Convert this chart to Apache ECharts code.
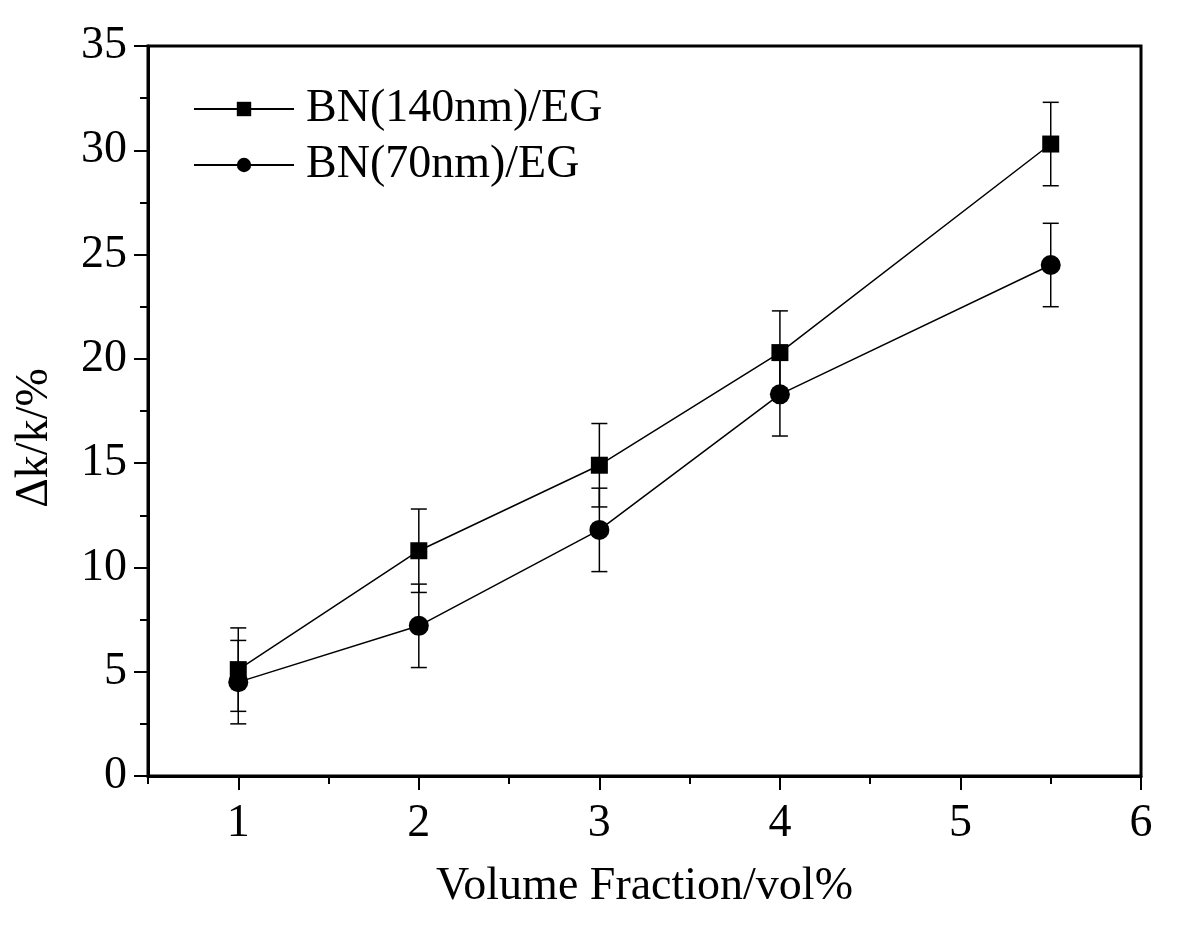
<!DOCTYPE html>
<html>
<head>
<meta charset="utf-8">
<script src="https://cdn.jsdelivr.net/npm/echarts@6/dist/echarts.min.js"></script>
<style>
  html, body { margin: 0; padding: 0; background: #fff; }
  #chart { width: 1200px; height: 951px; }
</style>
</head>
<body>
<div id="chart"></div>
<script>
// data
var xValues = [1, 2, 3, 4, 5.5];
var bn140 = [5.1, 10.8, 14.9, 20.3, 30.3];
var bn70 = [4.5, 7.2, 11.8, 18.3, 24.5];
var err140 = [2, 2, 2, 2, 2];
var err70 = [2, 2, 2, 2, 2];
var xMajorTicks = [1, 2, 3, 4, 5, 6];
var xMinorTicks = [0.5, 1.5, 2.5, 3.5, 4.5, 5.5];
var yMajorTicks = [0, 5, 10, 15, 20, 25, 30, 35];
var yMinorTicks = [2.5, 7.5, 12.5, 17.5, 22.5, 27.5, 32.5];

var font = "'Liberation Serif', 'DejaVu Serif', serif";

function pairs(xs, ys) {
  return xs.map(function (x, i) { return [x, ys[i]]; });
}
function errRows(xs, ys, es) {
  return xs.map(function (x, i) { return [x, ys[i] - es[i], ys[i] + es[i]]; });
}

// error bar drawing: vertical whisker with caps
function renderErr(params, api) {
  var x = api.value(0);
  var lo = api.coord([x, api.value(1)]);
  var hi = api.coord([x, api.value(2)]);
  var cap = 8;
  var style = { stroke: '#000', lineWidth: 1.5 };
  return {
    type: 'group',
    children: [
      { type: 'line', shape: { x1: lo[0], y1: lo[1], x2: hi[0], y2: hi[1] }, style: style },
      { type: 'line', shape: { x1: lo[0] - cap, y1: lo[1], x2: lo[0] + cap, y2: lo[1] }, style: style },
      { type: 'line', shape: { x1: hi[0] - cap, y1: hi[1], x2: hi[0] + cap, y2: hi[1] }, style: style }
    ]
  };
}

var chart = echarts.init(document.getElementById('chart'));

var baseX = { type: 'value', min: 0.5, max: 6, gridIndex: 0, splitLine: { show: false } };
var baseY = { type: 'value', min: 0, max: 35, gridIndex: 0, splitLine: { show: false } };

chart.setOption({
  animation: false,
  backgroundColor: '#fff',
  grid: {
    left: 148, right: 59, top: 46, bottom: 175,
    show: true, borderColor: '#000', borderWidth: 3, backgroundColor: 'transparent'
  },
  legend: {
    left: 188, top: 81,
    orient: 'vertical',
    itemWidth: 100, itemHeight: 18, itemGap: 10,
    textStyle: { fontFamily: font, fontSize: 46, color: '#000', padding: [0, 0, 0, 7] },
    data: ['BN(140nm)/EG', 'BN(70nm)/EG']
  },
  xAxis: [
    Object.assign({}, baseX, {
      name: 'Volume Fraction/vol%',
      nameLocation: 'middle',
      nameGap: 88,
      nameTextStyle: { fontFamily: font, fontSize: 46, color: '#000' },
      axisLine: { show: true, lineStyle: { color: '#000', width: 3 } },
      axisTick: { show: true, inside: false, length: 8, lineStyle: { color: '#000', width: 2 }, customValues: xMinorTicks },
      axisLabel: { show: true, margin: 25, fontFamily: font, fontSize: 46, color: '#000', customValues: xMajorTicks }
    }),
    Object.assign({}, baseX, {
      position: 'bottom',
      axisLine: { show: false },
      axisTick: { show: true, inside: false, length: 14, lineStyle: { color: '#000', width: 2 }, customValues: xMajorTicks },
      axisLabel: { show: false }
    })
  ],
  yAxis: [
    Object.assign({}, baseY, {
      name: 'Δk/k/%',
      nameLocation: 'middle',
      nameGap: 90,
      nameRotate: 90,
      nameTextStyle: { fontFamily: font, fontSize: 46, color: '#000', padding: [0, 54, 0, 0] },
      axisLine: { show: true, lineStyle: { color: '#000', width: 3 } },
      axisTick: { show: true, inside: false, length: 8, lineStyle: { color: '#000', width: 2 }, customValues: yMinorTicks },
      axisLabel: { show: true, margin: 21, fontFamily: font, fontSize: 46, color: '#000', customValues: yMajorTicks }
    }),
    Object.assign({}, baseY, {
      position: 'left',
      axisLine: { show: false },
      axisTick: { show: true, inside: false, length: 14, lineStyle: { color: '#000', width: 2 }, customValues: yMajorTicks },
      axisLabel: { show: false }
    })
  ],
  series: [
    {
      name: 'BN(140nm)/EG-err',
      type: 'custom',
      renderItem: renderErr,
      data: errRows(xValues, bn140, err140),
      z: 1,
      silent: true
    },
    {
      name: 'BN(70nm)/EG-err',
      type: 'custom',
      renderItem: renderErr,
      data: errRows(xValues, bn70, err70),
      z: 1,
      silent: true
    },
    {
      name: 'BN(140nm)/EG',
      type: 'line',
      data: pairs(xValues, bn140),
      symbol: 'rect',
      symbolSize: 17,
      itemStyle: { color: '#000' },
      lineStyle: { color: '#000', width: 1.5 },
      z: 3
    },
    {
      name: 'BN(70nm)/EG',
      type: 'line',
      data: pairs(xValues, bn70),
      symbol: 'circle',
      symbolSize: 20,
      itemStyle: { color: '#000' },
      lineStyle: { color: '#000', width: 1.5 },
      z: 3
    }
  ]
});
</script>
</body>
</html>
